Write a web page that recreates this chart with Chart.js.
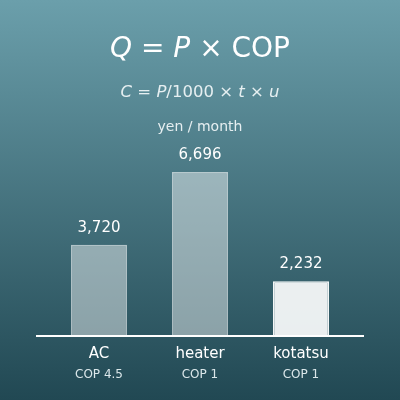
<!DOCTYPE html>
<html>
<head>
<meta charset="utf-8">
<script src="https://cdn.jsdelivr.net/npm/chart.js@4/dist/chart.umd.min.js"></script>
<style>
  html, body { margin: 0; padding: 0; background: #2c5660; }
  canvas { display: block; }
</style>
</head>
<body>
<canvas id="chart" width="400" height="400"></canvas>
<script>
const categories = ["AC", "heater", "kotatsu"];
const copLabels = ["COP 4.5", "COP 1", "COP 1"];
const monthlyCost = [3720, 6696, 2232];

const FONT = "'DejaVu Sans', sans-serif";

// draws a line of text where some pieces are italic (math letters)
function drawMixed(ctx, parts, size, cx, y) {
  let total = 0;
  parts.forEach(p => {
    ctx.font = (p.i ? "italic " : "") + size + "px " + FONT;
    p.w = ctx.measureText(p.t).width;
    total += p.w;
  });
  let x = cx - total / 2;
  parts.forEach(p => {
    ctx.font = (p.i ? "italic " : "") + size + "px " + FONT;
    ctx.fillText(p.t, x, y);
    x += p.w;
  });
}

const backdrop = {
  id: "backdrop",
  beforeDraw(chart) {
    const ctx = chart.ctx;
    const g = ctx.createLinearGradient(0, 0, 0, chart.height);
    g.addColorStop(0, "#6b9fab");
    g.addColorStop(1, "#214853");
    ctx.save();
    ctx.fillStyle = g;
    ctx.fillRect(0, 0, chart.width, chart.height);
    ctx.restore();
  }
};

const decorations = {
  id: "decorations",
  afterDatasetsDraw(chart) {
    const ctx = chart.ctx;
    const x = chart.scales.x;
    const y = chart.scales.y;
    const base = y.getPixelForValue(0);
    ctx.save();

    // heading formulas
    ctx.fillStyle = "#ffffff";
    ctx.textBaseline = "alphabetic";
    ctx.textAlign = "left";
    drawMixed(ctx, [
      { t: "Q", i: true }, { t: " = " }, { t: "P", i: true }, { t: " × COP" }
    ], 28, 200, 57);
    ctx.fillStyle = "#e6eff1";
    drawMixed(ctx, [
      { t: "C", i: true }, { t: " = " }, { t: "P", i: true }, { t: "/1000 × " },
      { t: "t", i: true }, { t: " × " }, { t: "u", i: true }
    ], 16.5, 200, 97);
    ctx.textAlign = "center";
    ctx.font = "14px " + FONT;
    ctx.fillText("yen / month", 200, 131);

    // baseline
    ctx.strokeStyle = "#ffffff";
    ctx.lineWidth = 2;
    ctx.beginPath();
    ctx.moveTo(36, base);
    ctx.lineTo(364, base);
    ctx.stroke();

    // value labels and category labels
    const meta = chart.getDatasetMeta(0);
    meta.data.forEach((bar, i) => {
      ctx.fillStyle = "#ffffff";
      ctx.font = "15px " + FONT;
      ctx.textBaseline = "middle";
      ctx.fillText(monthlyCost[i].toLocaleString("en-US"), bar.x, bar.y - 17);
      const cx = x.getPixelForValue(i);
      ctx.font = "15px " + FONT;
      ctx.fillText(categories[i], cx, base + 18);
      ctx.fillStyle = "#dbe7ea";
      ctx.font = "12px " + FONT;
      ctx.fillText(copLabels[i], cx, base + 39);
    });
    ctx.restore();
  }
};

new Chart(document.getElementById("chart"), {
  type: "bar",
  data: {
    labels: categories,
    datasets: [{
      data: monthlyCost,
      backgroundColor: ["rgba(255,255,255,0.45)", "rgba(255,255,255,0.45)", "rgba(255,255,255,0.9)"],
      borderColor: ["rgba(255,255,255,0.6)", "rgba(255,255,255,0.6)", "rgba(255,255,255,0.95)"],
      borderWidth: 1.5,
      barPercentage: 0.555,
      categoryPercentage: 1
    }]
  },
  options: {
    responsive: false,
    devicePixelRatio: 1,
    animation: false,
    layout: { padding: { left: 48.5, right: 48.5, top: 140, bottom: 64 } },
    scales: {
      x: { display: false },
      y: { display: false, min: 0, max: 8000 }
    },
    plugins: {
      legend: { display: false },
      tooltip: { enabled: false }
    }
  },
  plugins: [backdrop, decorations]
});
</script>
</body>
</html>
